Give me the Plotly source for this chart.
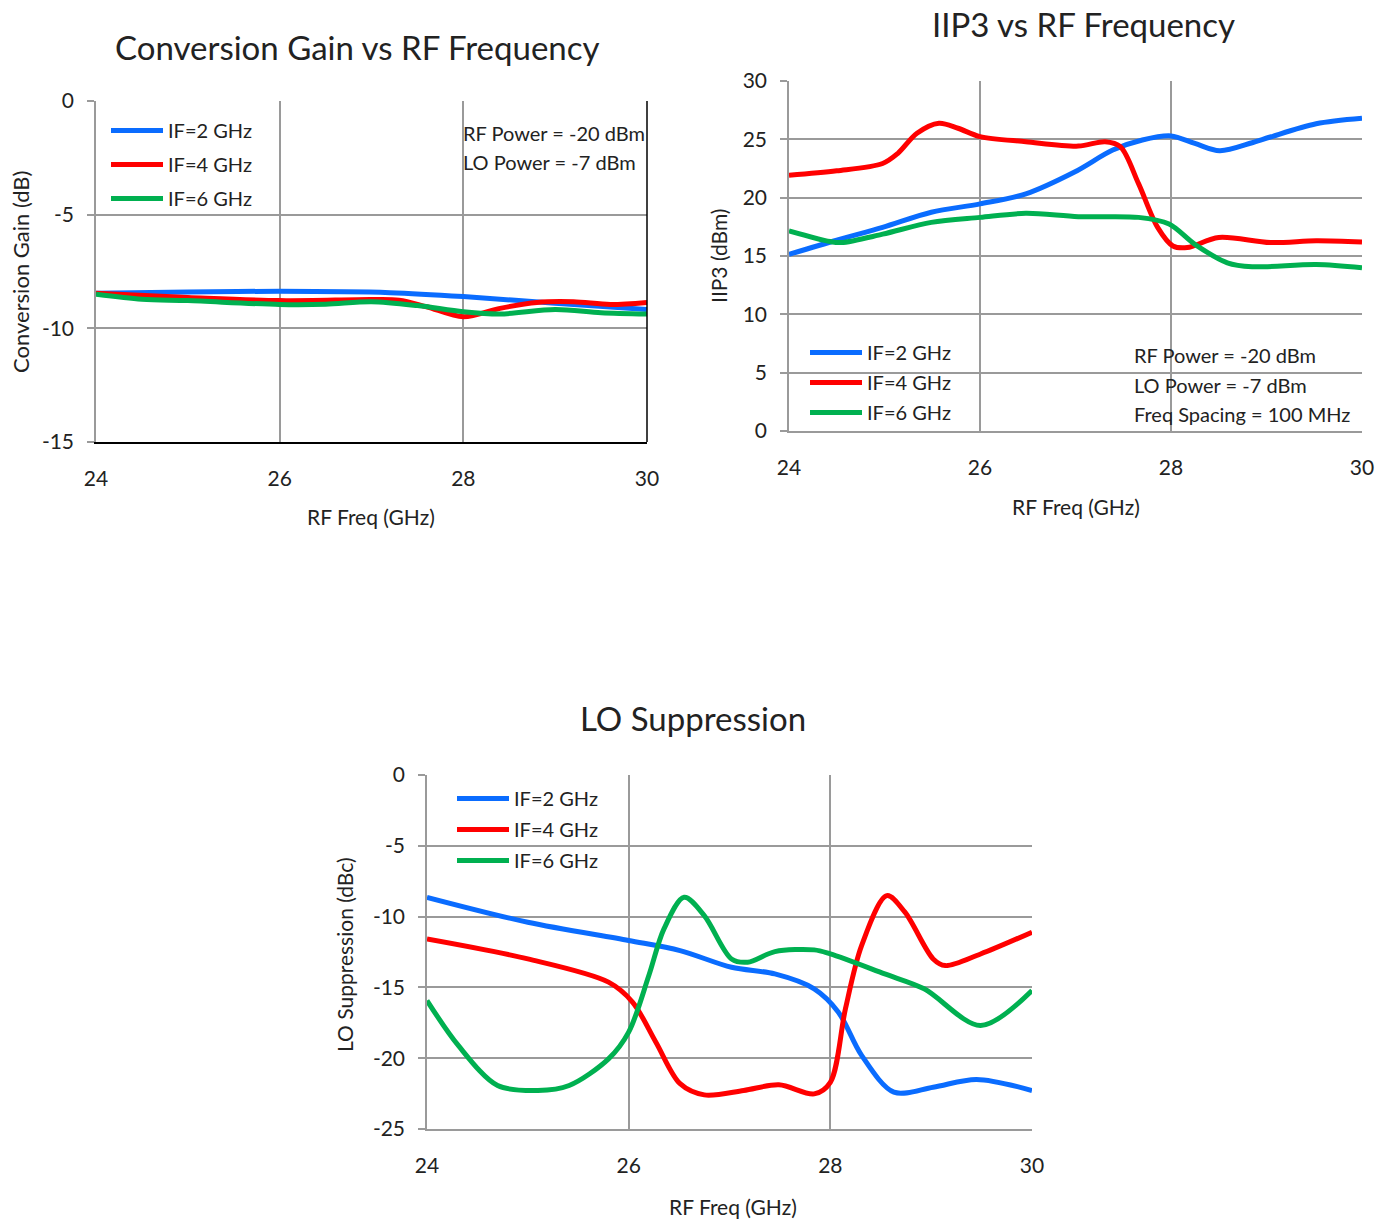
import plotly.graph_objects as go

# ---------------- data ----------------
series_names = ["IF=2 GHz", "IF=4 GHz", "IF=6 GHz"]
colors = ["#0A6CFF", "#FF0000", "#00B050"]

# Conversion Gain (dB)
cg_x_if2 = [24.0, 25.0, 26.0, 27.2, 28.0, 29.0, 30.0]
cg_y_if2 = [-8.46, -8.40, -8.37, -8.43, -8.60, -8.90, -9.17]
cg_x_if4 = [24.0, 25.0, 26.0, 27.0, 27.3, 27.6, 28.0, 28.4, 28.8, 29.2, 29.6, 30.0]
cg_y_if4 = [-8.46, -8.64, -8.78, -8.73, -8.76, -9.05, -9.49, -9.12, -8.86, -8.83, -8.95, -8.86]
cg_x_if6 = [24.0, 24.5, 25.0, 26.0, 26.5, 27.0, 27.5, 28.0, 28.4, 29.0, 29.5, 30.0]
cg_y_if6 = [-8.50, -8.72, -8.78, -8.95, -8.94, -8.83, -9.00, -9.27, -9.37, -9.17, -9.31, -9.37]

# IIP3 (dBm)
ip_x_if2 = [24.0, 24.5, 24.98, 25.49, 26.0, 26.48, 26.99, 27.39, 27.7, 28.0, 28.25, 28.51, 28.85, 29.04, 29.52, 30.0]
ip_y_if2 = [15.14, 16.35, 17.45, 18.75, 19.47, 20.33, 22.2, 24.08, 24.94, 25.29, 24.65, 24.02, 24.71, 25.2, 26.33, 26.8]
ip_x_if4 = [24.0, 24.5, 24.98, 25.14, 25.34, 25.57, 25.77, 26.0, 26.48, 27.03, 27.31, 27.47, 27.66, 27.86, 28.02, 28.17, 28.5, 29.04, 29.52, 30.0]
ip_y_if4 = [21.92, 22.3, 22.93, 23.8, 25.52, 26.38, 25.95, 25.23, 24.8, 24.42, 24.8, 24.37, 21.2, 17.45, 15.86, 15.72, 16.59, 16.15, 16.3, 16.2]
ip_x_if6 = [24.0, 24.43, 24.55, 24.98, 25.49, 26.0, 26.48, 27.03, 27.66, 27.98, 28.25, 28.59, 28.85, 29.52, 30.0]
ip_y_if6 = [17.16, 16.24, 16.15, 16.87, 17.88, 18.31, 18.66, 18.37, 18.31, 17.74, 16.0, 14.42, 14.08, 14.28, 14.0]

# LO Suppression (dBc)
lo_x_if2 = [24.0, 25.0, 26.0, 26.51, 27.02, 27.45, 27.84, 28.08, 28.31, 28.63, 29.02, 29.45, 30.0]
lo_y_if2 = [-8.64, -10.4, -11.69, -12.4, -13.58, -14.05, -15.1, -16.75, -19.8, -22.4, -22.05, -21.5, -22.28]
lo_x_if4 = [24.0, 25.0, 25.8, 26.04, 26.27, 26.51, 26.75, 27.14, 27.49, 27.84, 28.0, 28.15, 28.31, 28.56, 28.74, 29.02, 29.14, 29.49, 30.0]
lo_y_if4 = [-11.58, -12.99, -14.63, -16.05, -18.87, -21.8, -22.59, -22.28, -21.88, -22.52, -21.7, -16.5, -12.05, -8.52, -9.69, -12.99, -13.46, -12.64, -11.1]
lo_x_if6 = [24.0, 24.31, 24.7, 25.1, 25.41, 25.8, 26.0, 26.2, 26.35, 26.55, 26.75, 27.02, 27.18, 27.45, 27.84, 28.0, 28.54, 28.93, 29.49, 30.0]
lo_y_if6 = [-15.93, -19.1, -21.93, -22.28, -21.93, -20.05, -18.16, -14.16, -10.87, -8.64, -9.93, -12.99, -13.22, -12.47, -12.35, -12.64, -14.05, -15.1, -17.69, -15.22]

x_ticks = [24, 26, 28, 30]
cg_ticks = [-15, -10, -5, 0]
ip_ticks = [0, 5, 10, 15, 20, 25, 30]
lo_ticks = [-25, -20, -15, -10, -5, 0]

# ---------------- figure ----------------
W, H = 1393, 1219
FONT = "Lato"
TXT = "#222222"
GRID = "#9A9A9A"


def px(x):
    return x / W


def py(y):
    return 1 - y / H


fig = go.Figure()

charts = [
    ("x", "y", "legend", [(cg_x_if2, cg_y_if2), (cg_x_if4, cg_y_if4), (cg_x_if6, cg_y_if6)]),
    ("x2", "y2", "legend2", [(ip_x_if2, ip_y_if2), (ip_x_if4, ip_y_if4), (ip_x_if6, ip_y_if6)]),
    ("x3", "y3", "legend3", [(lo_x_if2, lo_y_if2), (lo_x_if4, lo_y_if4), (lo_x_if6, lo_y_if6)]),
]
for ci, (xa, ya, lg, data) in enumerate(charts):
    for si, (xs, ys) in enumerate(data):
        fig.add_trace(go.Scatter(
            x=xs, y=ys, mode="lines", name=series_names[si],
            line=dict(color=colors[si], width=5, shape="spline", smoothing=0.9),
            xaxis=xa, yaxis=ya, legend=lg, legendgroup=f"{ci}-{si}",
            showlegend=True,
        ))

# domains (pixel geometry)
dom = {
    1: dict(x=(96, 647), y=(101, 442), yr=[-15, 0], yt=cg_ticks),
    2: dict(x=(789, 1362), y=(81, 431), yr=[0, 30], yt=ip_ticks),
    3: dict(x=(427, 1032), y=(775, 1129), yr=[-25, 0], yt=lo_ticks),
}
for i, d in dom.items():
    sx = "" if i == 1 else str(i)
    xaxis = dict(
        domain=[px(d["x"][0]), px(d["x"][1])], range=[24, 30],
        tickvals=x_ticks, ticktext=[str(v) for v in x_ticks],
        showgrid=True, gridcolor=GRID, gridwidth=1.5, zeroline=False,
        showline=True, linecolor=("#000000" if i == 1 else GRID), linewidth=1.5,
        ticks="", ticklabelstandoff=17, automargin=False,
        tickfont=dict(family=FONT, size=21, color=TXT),
        anchor="y" + sx, fixedrange=True,
    )
    yaxis = dict(
        domain=[py(d["y"][1]), py(d["y"][0])], range=d["yr"],
        tickvals=d["yt"], ticktext=[str(v) for v in d["yt"]],
        showgrid=True, gridcolor=GRID, gridwidth=1.5, zeroline=False,
        showline=True, linecolor=GRID, linewidth=1.5,
        ticks="outside", ticklen=7, tickcolor=GRID, tickwidth=1.5,
        ticklabelstandoff=9, automargin=False,
        tickfont=dict(family=FONT, size=21, color=TXT),
        anchor="x" + sx, fixedrange=True,
    )
    fig.update_layout(**{"xaxis" + sx: xaxis, "yaxis" + sx: yaxis})

# right black border on the first chart
fig.add_shape(type="line", xref="x domain", yref="y domain", x0=1, x1=1, y0=0, y1=1,
              line=dict(color="#000000", width=1.5))

ann = []


def add_text(text, x, y, size, xanchor="center", angle=0):
    ann.append(dict(text=text, x=px(x), y=py(y), xref="paper", yref="paper",
                    xanchor=xanchor, yanchor="middle", showarrow=False, textangle=angle,
                    font=dict(family=FONT, size=size, color=TXT)))


# titles
add_text("Conversion Gain vs RF Frequency", 358, 47, 33)
add_text("IIP3 vs RF Frequency", 1083, 24, 33)
add_text("LO Suppression", 693, 718, 33)
# axis titles
add_text("RF Freq (GHz)", 371, 516, 21)
add_text("RF Freq (GHz)", 1076, 507, 21)
add_text("RF Freq (GHz)", 733, 1206, 21)
add_text("Conversion Gain (dB)", 20, 272, 22, angle=-90)
add_text("IIP3 (dBm)", 718, 256, 21, angle=-90)
add_text("LO Suppression (dBc)", 345, 955, 21, angle=-90)
# notes
add_text("RF Power = -20 dBm", 461, 133, 20, xanchor="left")
add_text("LO Power = -7 dBm", 461, 162, 20, xanchor="left")
add_text("RF Power = -20 dBm", 1132, 355, 20, xanchor="left")
add_text("LO Power = -7 dBm", 1132, 385, 20, xanchor="left")
add_text("Freq Spacing = 100 MHz", 1132, 414, 20, xanchor="left")


def legend_cfg(x, y, gap):
    return dict(x=px(x), y=py(y), xref="paper", yref="paper", xanchor="left", yanchor="top",
                bgcolor="rgba(0,0,0,0)", borderwidth=0, itemwidth=52, tracegroupgap=gap,
                traceorder="grouped", font=dict(family=FONT, size=20, color=TXT),
                itemclick=False, itemdoubleclick=False)


fig.update_layout(
    width=W, height=H, margin=dict(l=0, r=0, t=0, b=0, pad=0, autoexpand=False),
    paper_bgcolor="white", plot_bgcolor="white",
    annotations=ann,
    legend=legend_cfg(106, 111, 5),
    legend2=legend_cfg(805, 333, 1),
    legend3=legend_cfg(452, 779, 2),
    font=dict(family=FONT, color=TXT),
)

fig.write_html("out.html", config={"displayModeBar": False})
